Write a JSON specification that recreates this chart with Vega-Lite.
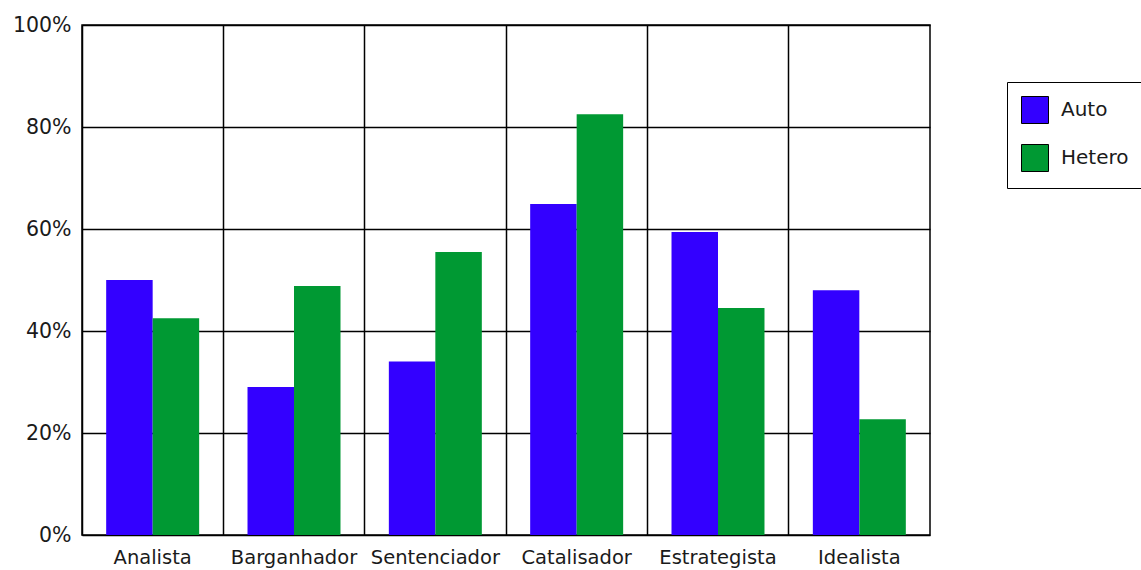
{
  "$schema": "https://vega.github.io/schema/vega-lite/v6.json",
  "width": 848,
  "height": 510,
  "autosize": {"type": "none"},
  "padding": {"left": 82, "top": 25, "right": 211, "bottom": 35},
  "background": "white",
  "config": {
    "font": "DejaVu Sans",
    "view": {"stroke": "black", "strokeWidth": 1.5},
    "axis": {"labelFont": "DejaVu Sans", "labelColor": "#1a1a1a"}
  },
  "data": {
    "values": [
      {"perfil": "Analista", "tipo": "Auto", "valor": 0.50},
      {"perfil": "Analista", "tipo": "Hetero", "valor": 0.425},
      {"perfil": "Barganhador", "tipo": "Auto", "valor": 0.29},
      {"perfil": "Barganhador", "tipo": "Hetero", "valor": 0.488},
      {"perfil": "Sentenciador", "tipo": "Auto", "valor": 0.34},
      {"perfil": "Sentenciador", "tipo": "Hetero", "valor": 0.555},
      {"perfil": "Catalisador", "tipo": "Auto", "valor": 0.649},
      {"perfil": "Catalisador", "tipo": "Hetero", "valor": 0.825},
      {"perfil": "Estrategista", "tipo": "Auto", "valor": 0.594},
      {"perfil": "Estrategista", "tipo": "Hetero", "valor": 0.445},
      {"perfil": "Idealista", "tipo": "Auto", "valor": 0.48},
      {"perfil": "Idealista", "tipo": "Hetero", "valor": 0.227}
    ]
  },
  "mark": {"type": "bar"},
  "encoding": {
    "x": {
      "field": "perfil",
      "type": "nominal",
      "sort": null,
      "scale": {"paddingInner": 0, "paddingOuter": 0},
      "axis": {
        "title": null,
        "bandPosition": 0,
        "labelAngle": 0,
        "labelFontSize": 19.5,
        "labelPadding": 13,
        "ticks": false,
        "domain": false,
        "grid": true,
        "gridColor": "black",
        "gridWidth": 1.5,
        "gridOpacity": 1
      }
    },
    "xOffset": {
      "field": "tipo",
      "type": "nominal",
      "scale": {"paddingInner": 0, "paddingOuter": 0.52}
    },
    "y": {
      "field": "valor",
      "type": "quantitative",
      "scale": {"domain": [0, 1], "nice": false},
      "axis": {
        "title": null,
        "format": ".0%",
        "values": [0, 0.2, 0.4, 0.6, 0.8, 1],
        "labelFontSize": 20.5,
        "labelPadding": 11,
        "ticks": false,
        "domain": false,
        "grid": true,
        "gridColor": "black",
        "gridWidth": 1.5,
        "gridOpacity": 1
      }
    },
    "color": {
      "field": "tipo",
      "type": "nominal",
      "scale": {"domain": ["Auto", "Hetero"], "range": ["#3300FF", "#009933"]},
      "legend": {
        "title": null,
        "orient": "none",
        "legendX": 925,
        "legendY": 57,
        "padding": 14,
        "strokeColor": "black",
        "fillColor": "white",
        "symbolType": "square",
        "symbolSize": 729,
        "symbolStrokeColor": "black",
        "symbolStrokeWidth": 1,
        "symbolOpacity": 1,
        "labelFontSize": 20,
        "labelColor": "#1a1a1a",
        "labelOffset": 12,
        "rowPadding": 16
      }
    }
  }
}
